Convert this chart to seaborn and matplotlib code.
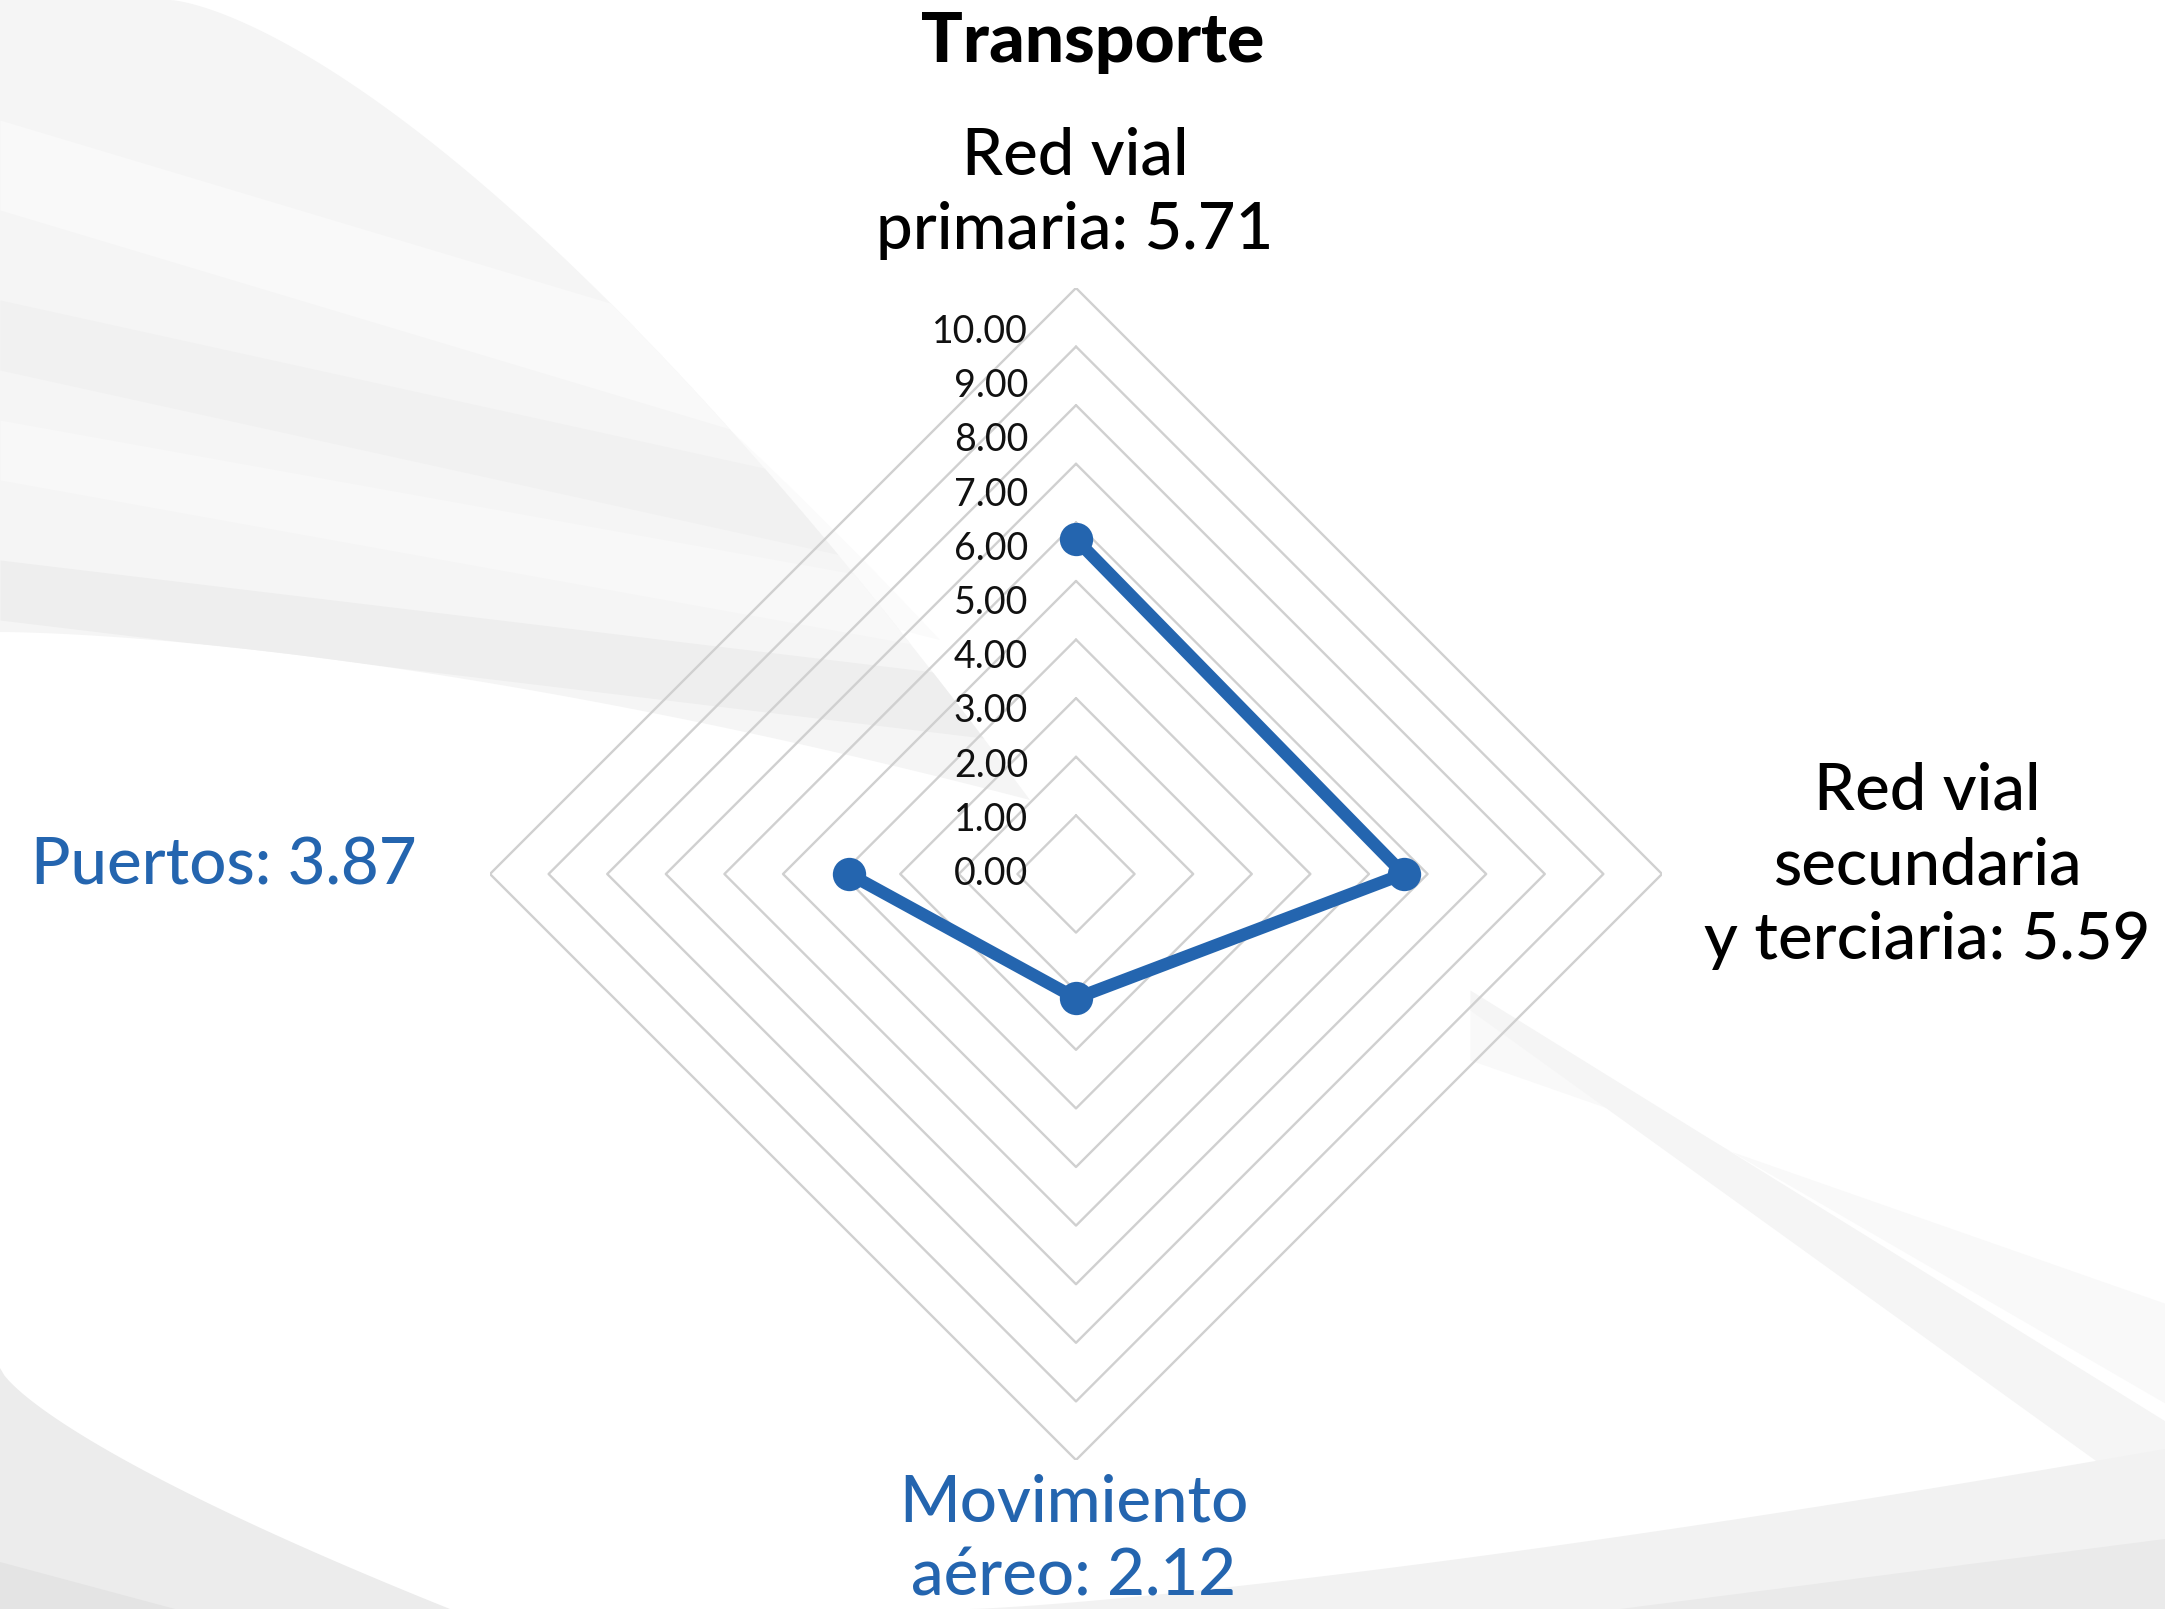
import numpy as np
import matplotlib
matplotlib.use("Agg")
import matplotlib.pyplot as plt
import matplotlib.transforms as mtransforms
from matplotlib.patches import Polygon
import seaborn as sns

# ---------------- data ----------------
categories = ["Red vial\nprimaria", "Red vial\nsecundaria\ny terciaria", "Movimiento\naéreo", "Puertos"]
values = [5.71, 5.59, 2.12, 3.87]
ticks = [0, 1, 2, 3, 4, 5, 6, 7, 8, 9, 10]
title = "Transporte"

BLUE = "#2465AF"
GRID = "#d0d0d0"

sns.set_theme(style="white")
plt.rcParams["font.family"] = ["Lato", "DejaVu Sans"]

W, H = 2165, 1609
fig = plt.figure(figsize=(W / 100, H / 100), dpi=100)
fig.patch.set_facecolor("white")

# ---------------- decorative background swooshes ----------------
bg = fig.add_axes([0, 0, 1, 1], zorder=0)
bg.set_xlim(0, W)
bg.set_ylim(H, 0)
bg.axis("off")

# faint outer arc (top-left)
t2 = np.linspace(0, 1, 200)
a_x = np.concatenate([[0], 40 + 900 * t2, [0]])
a_y = np.concatenate([[0], 640 * t2 ** 1.5, [400]])
bg.add_patch(Polygon(np.column_stack([a_x, a_y]), closed=True, facecolor="#fbfbfb",
                     edgecolor="none", zorder=0.3))

# top-left light swoosh tapering under the chart
t = np.linspace(0, 1, 200)
upper_x = 170 + 860 * t
upper_y = 800 * t ** 1.45
lower_x = np.linspace(1030, 0, 200)
lower_y = 632 + 168 * (lower_x / 1030) ** 1.6
sw = Polygon(np.column_stack([np.concatenate([[0], upper_x, lower_x]),
                              np.concatenate([[0], upper_y, lower_y])]),
             closed=True, facecolor="#f5f5f5", edgecolor="none", zorder=0.35)
bg.add_patch(sw)
for c, y0, sl, wd in [("#f9f9f9", 120, 0.30, 90), ("#f1f1f1", 300, 0.22, 70),
                      ("#f8f8f8", 420, 0.18, 60), ("#eeeeee", 560, 0.12, 60)]:
    sx = np.linspace(0, 1100, 100)
    band = bg.fill_between(sx, y0 + sx * sl, y0 + wd + sx * sl, color=c, lw=0, zorder=0.4)
    band.set_clip_path(sw)

# bottom-left grey swoosh
bx = np.linspace(0, 450, 100)
by = 1368 + 241 * (bx / 450) ** 0.75
bg.fill(np.concatenate([bx, [0]]), np.concatenate([by, [H]]), color="#ececec", lw=0, zorder=0.7)
bx2 = np.linspace(0, 175, 50)
by2 = 1562 + 47 * (bx2 / 175)
bg.fill(np.concatenate([bx2, [0]]), np.concatenate([by2, [H]]), color="#e4e4e4", lw=0, zorder=0.8)

# right-middle faint bands
rx = np.linspace(1470, W, 100)
bg.fill_between(rx, 990 + (rx - 1470) * 0.62, 1010 + (rx - 1470) * 0.72, color="#f5f5f5", lw=0, zorder=0.7)
bg.fill_between(rx, 1060 + (rx - 1470) * 0.35, 1000 + (rx - 1470) * 0.58, color="#f9f9f9", lw=0, zorder=0.65)

# bottom-right swoosh
brx = np.linspace(970, W, 100)
bry = H - 160 * ((brx - 970) / (W - 970)) ** 1.3
bg.fill(np.concatenate([brx, [W]]), np.concatenate([bry, [H]]), color="#f2f2f2", lw=0, zorder=0.7)
brx2 = np.linspace(1620, W, 60)
bry2 = H - 70 * ((brx2 - 1620) / (W - 1620))
bg.fill(np.concatenate([brx2, [W]]), np.concatenate([bry2, [H]]), color="#eaeaea", lw=0, zorder=0.8)

# ---------------- radar ----------------
cx, cy, R = 1076, 874, 586
ax = fig.add_axes([(cx - R) / W, (H - cy - R) / H, 2 * R / W, 2 * R / H],
                  projection="polar", zorder=2)
ax.set_facecolor("none")
ax.set_theta_zero_location("N")
ax.set_theta_direction(-1)
ax.set_ylim(0, 10)
ax.grid(False)
ax.spines["polar"].set_visible(False)
ax.set_xticks([])
ax.set_yticks([])

n = len(categories)
angles = np.linspace(0, 2 * np.pi, n, endpoint=False)
ang_closed = np.concatenate([angles, angles[:1]])

# diamond grid rings
for k in ticks[1:]:
    ax.plot(ang_closed, [k] * (n + 1), color=GRID, linewidth=1.7, zorder=1)

# data line
vals_closed = values + values[:1]
sns.lineplot(x=ang_closed, y=vals_closed, sort=False, ax=ax, color=BLUE,
             linewidth=9, marker="o", markersize=24, markeredgewidth=0, zorder=5)
for ln in ax.lines[-1:]:
    ln.set_linewidth(9)
    ln.set_markersize(24)
    ln.set_solid_joinstyle("round")
ax.set_xlabel("")
ax.set_ylabel("")

# radial tick labels
label_step = 0.925
off = mtransforms.offset_copy(ax.transData, fig=fig, x=-48, y=0, units="dots")
for k in ticks:
    ax.text(0, k * label_step, f"{k:.2f}", transform=off, ha="right", va="center",
            fontsize=27, color="#111111", zorder=6, clip_on=False)


# category labels
def fx(x):
    return x / W


def fy(y):
    return 1 - y / H


cat_style = dict(fontsize=47, fontweight="medium", linespacing=1.33, ha="center", va="center")
fig.text(fx(1075), fy(193), f"{categories[0]}: {values[0]:.2f}", color="black", **cat_style)
fig.text(fx(1927), fy(866), f"{categories[1]}: {values[1]:.2f}", color="black", **cat_style)
fig.text(fx(1074), fy(1540), f"{categories[2]}: {values[2]:.2f}", color=BLUE, **cat_style)
fig.text(fx(224), fy(866), f"{categories[3]}: {values[3]:.2f}", color=BLUE, **cat_style)

fig.text(fx(1093), fy(42), title, fontsize=50, fontweight="black", ha="center", va="center",
         color="black")

fig.savefig("out.png", dpi=100, facecolor="white")
